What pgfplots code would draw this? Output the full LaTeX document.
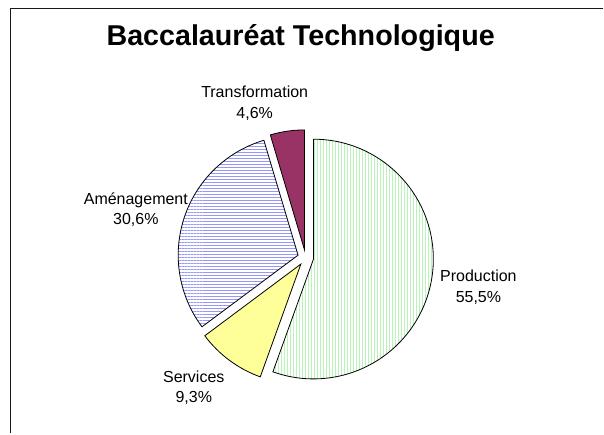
\documentclass[border=0pt]{standalone}
\usepackage{fontspec}
\setmainfont{Liberation Sans}
\usepackage{pgfplots}
\usepackage{pgfplotstable}
\pgfplotsset{compat=1.18}
\usetikzlibrary{calc,patterns.meta}

\definecolor{prodgreen}{RGB}{185,245,185}
\definecolor{amenblue}{RGB}{150,150,255}
\definecolor{servyellow}{RGB}{255,255,153}
\definecolor{transmaroon}{RGB}{153,51,102}

\pgfplotstableread{
label value
Production 55.5
Services 9.3
Amenagement 30.6
Transformation 4.6
}\piedata

\pgfplotstablegetelem{0}{value}\of\piedata \let\vA\pgfplotsretval
\pgfplotstablegetelem{1}{value}\of\piedata \let\vB\pgfplotsretval
\pgfplotstablegetelem{2}{value}\of\piedata \let\vC\pgfplotsretval
\pgfplotstablegetelem{3}{value}\of\piedata \let\vD\pgfplotsretval

\pgfmathsetmacro\aA{90}
\pgfmathsetmacro\aB{\aA-3.6*\vA}
\pgfmathsetmacro\aC{\aB-3.6*\vB}
\pgfmathsetmacro\aD{\aC-3.6*\vC}
\pgfmathsetmacro\aE{\aD-3.6*\vD}

% start angle, end angle, style
\newcommand\pieslice[3]{%
  \path[draw=black,line width=0.8pt,#3]
    ($(axis cs:306,176)+({(#1+#2)/2}:8pt)$) -- +(#1:120pt)
    arc[start angle=#1,end angle=#2,radius=120pt] -- cycle;}

\begin{document}
\begin{tikzpicture}
\begin{axis}[
  width=604pt, height=434pt, scale only axis,
  xmin=0, xmax=604, ymin=0, ymax=434,
  hide axis, clip=false]
\path (axis cs:0,0) rectangle (axis cs:604,434);
\draw[line width=1.5pt,black!90] (axis cs:10.5,0) -- (axis cs:10.5,425.5) -- (axis cs:604,425.5);

\pieslice{\aA}{\aB}{pattern={Lines[angle=90,distance=3pt,line width=1pt]},pattern color=prodgreen}
\pieslice{\aB}{\aC}{fill=servyellow}
\pieslice{\aC}{\aD}{pattern={Lines[angle=0,distance=3pt,line width=1.3pt]},pattern color=amenblue}
\pieslice{\aD}{\aE}{fill=transmaroon}

\node[anchor=base,font=\fontsize{28.7}{34}\selectfont\bfseries] at (axis cs:301,388) {Baccalauréat Technologique};

\node[anchor=base,font=\fontsize{16}{19}\selectfont] at (axis cs:255,336) {Transformation};
\node[anchor=base,font=\fontsize{16}{19}\selectfont] at (axis cs:255,315) {4,6\%};
\node[anchor=base,font=\fontsize{16}{19}\selectfont] at (axis cs:136,229) {Aménagement};
\node[anchor=base,font=\fontsize{16}{19}\selectfont] at (axis cs:136,209) {30,6\%};
\node[anchor=base,font=\fontsize{16}{19}\selectfont] at (axis cs:479,152) {Production};
\node[anchor=base,font=\fontsize{16}{19}\selectfont] at (axis cs:479,131) {55,5\%};
\node[anchor=base,font=\fontsize{16}{19}\selectfont] at (axis cs:194,51) {Services};
\node[anchor=base,font=\fontsize{16}{19}\selectfont] at (axis cs:194,31) {9,3\%};
\end{axis}
\end{tikzpicture}
\end{document}
